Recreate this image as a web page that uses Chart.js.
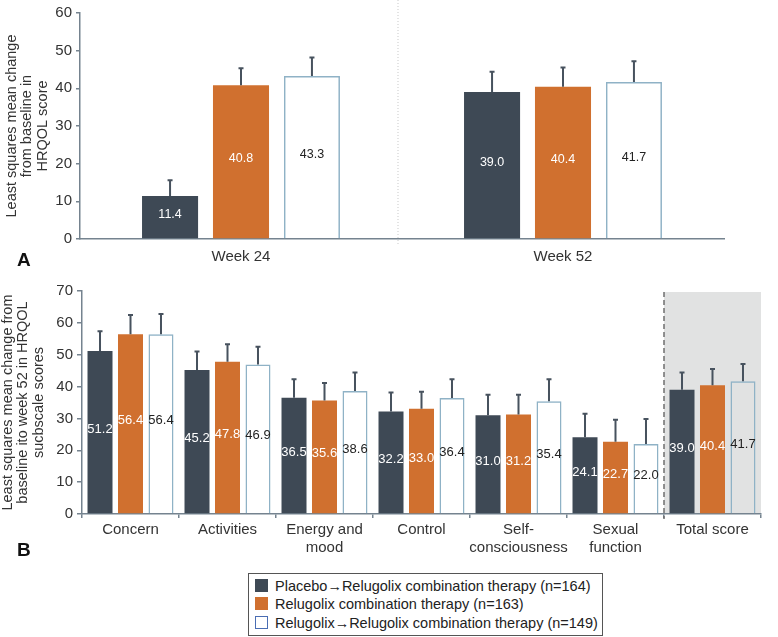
<!DOCTYPE html>
<html>
<head>
<meta charset="utf-8">
<script src="https://cdn.jsdelivr.net/npm/chart.js@4/dist/chart.umd.min.js"></script>
<style>
  html, body { margin: 0; padding: 0; background: #ffffff; }
  body { width: 778px; height: 637px; position: relative; overflow: hidden;
         font-family: "Liberation Sans", Arial, sans-serif; color: #222; }
  #wrapA { position: absolute; left: 0; top: 0; width: 778px; height: 268px; }
  #wrapB { position: absolute; left: 0; top: 270px; width: 778px; height: 290px; }
  .panel { position: absolute; font-weight: bold; font-size: 19px; color: #111; }
  #legend { position: absolute; left: 248px; top: 573px; width: 353px; height: 61px;
            border: 1px solid #555; box-sizing: content-box; }
  .li { position: absolute; left: 6px; height: 18px; font-size: 14.5px; line-height: 18px; white-space: nowrap; color: #222; }
  .sw { display: inline-block; width: 13px; height: 13px; vertical-align: -1px; margin-right: 7px; box-sizing: border-box; }
</style>
</head>
<body>
<div id="wrapA"><canvas id="chartA" width="778" height="268"></canvas></div>
<div id="wrapB"><canvas id="chartB" width="778" height="290"></canvas></div>
<div class="panel" style="left:17px; top:249px;">A</div>
<div class="panel" style="left:17px; top:539px;">B</div>
<div id="legend"></div>
<script>
// ---------- DATA ----------
const seriesNames = [
  'Placebo\u2192Relugolix combination therapy (n=164)',
  'Relugolix combination therapy (n=163)',
  'Relugolix\u2192Relugolix combination therapy (n=149)'
];
// Panel A
const weekLabels = ['Week 24', 'Week 52'];
const weekPlacebo = [11.4, 39.0];
const weekRelugolix = [40.8, 40.4];
const weekRelRel = [43.3, 41.7];
const weekPlaceboUpper = [15.6, 44.4];
const weekRelugolixUpper = [45.3, 45.5];
const weekRelRelUpper = [48.2, 47.2];
const yTitleA = ['Least squares mean change', 'from baseline in', 'HRQOL score'];
const yMaxA = 60;
// Panel B
const domainLabels = [['Concern'], ['Activities'], ['Energy and', 'mood'], ['Control'],
                      ['Self-', 'consciousness'], ['Sexual', 'function'], ['Total score']];
const domainPlacebo = [51.2, 45.2, 36.5, 32.2, 31.0, 24.1, 39.0];
const domainRelugolix = [56.4, 47.8, 35.6, 33.0, 31.2, 22.7, 40.4];
const domainRelRel = [56.4, 46.9, 38.6, 36.4, 35.4, 22.0, 41.7];
const domainPlaceboUpper = [57.4, 51.0, 42.3, 38.1, 37.4, 31.5, 44.4];
const domainRelugolixUpper = [62.5, 53.3, 41.1, 38.4, 37.4, 29.6, 45.5];
const domainRelRelUpper = [62.8, 52.5, 44.4, 42.3, 42.3, 29.8, 47.1];
const yTitleB = ['Least squares mean change from', 'baseline ito week 52 in HRQOL', 'sucbscale scores'];
const yMaxB = 70;
const highlightIndex = 6; // "Total score" shaded

// ---------- STYLE ----------
const FONT = '"Liberation Sans", Arial, sans-serif';
const cDark = '#3e4955';
const cOrange = '#d0702f';
const cWhiteBorder = '#8fb2c6';
const cAxis = '#75838f';
const cErr = '#47525e';
const fills = [cDark, cOrange, 'rgba(255,255,255,0)'];
const borders = [cDark, cOrange, cWhiteBorder];
const labelColors = ['#ffffff', '#ffffff', '#222222'];

function makeDatasets(vals, uppers) {
  return vals.map((v, i) => ({
    label: seriesNames[i],
    data: v,
    upper: uppers[i],
    backgroundColor: fills[i],
    borderColor: borders[i],
    borderWidth: i === 2 ? 1.5 : 0,
    labelColor: labelColors[i]
  }));
}

const errorAndLabels = {
  id: 'errorAndLabels',
  afterDatasetsDraw(chart, args, opts) {
    const ctx = chart.ctx;
    const y = chart.scales.y;
    chart.data.datasets.forEach((ds, di) => {
      const meta = chart.getDatasetMeta(di);
      meta.data.forEach((bar, i) => {
        const top = bar.y;
        const up = y.getPixelForValue(ds.upper[i]);
        ctx.save();
        ctx.strokeStyle = cErr;
        ctx.lineWidth = 2;
        ctx.beginPath();
        ctx.moveTo(bar.x, top);
        ctx.lineTo(bar.x, up);
        ctx.moveTo(bar.x - 2.5, up);
        ctx.lineTo(bar.x + 2.5, up);
        ctx.stroke();
        ctx.fillStyle = ds.labelColor;
        ctx.font = opts.fontSize + 'px ' + FONT;
        ctx.textAlign = 'center';
        ctx.textBaseline = 'middle';
        ctx.fillText(ds.data[i].toFixed(1), bar.x, (bar.y + bar.base) / 2 - 3);
        ctx.restore();
      });
    });
  }
};

const separatorA = {
  id: 'separatorA',
  beforeDatasetsDraw(chart) {
    const x = chart.scales.x;
    const ctx = chart.ctx;
    const bx = (x.getPixelForValue(0) + x.getPixelForValue(1)) / 2 - 4;
    ctx.save();
    ctx.strokeStyle = '#c9c9c9';
    ctx.lineWidth = 1;
    ctx.setLineDash([1, 2]);
    ctx.beginPath();
    ctx.moveTo(bx, 0);
    ctx.lineTo(bx, chart.chartArea.bottom + 6);
    ctx.stroke();
    ctx.restore();
  }
};

const shadeB = {
  id: 'shadeB',
  beforeDraw(chart) {
    const x = chart.scales.x;
    const ca = chart.chartArea;
    const ctx = chart.ctx;
    const bx = (x.getPixelForValue(highlightIndex - 1) + x.getPixelForValue(highlightIndex)) / 2;
    ctx.save();
    ctx.fillStyle = '#e1e2e2';
    ctx.fillRect(bx, ca.top + 1, ca.right - bx, ca.bottom - ca.top - 1);
    ctx.restore();
  },
  beforeDatasetsDraw(chart) {
    const x = chart.scales.x;
    const ca = chart.chartArea;
    const ctx = chart.ctx;
    const bx = (x.getPixelForValue(highlightIndex - 1) + x.getPixelForValue(highlightIndex)) / 2;
    ctx.save();
    ctx.strokeStyle = '#6f6f6f';
    ctx.lineWidth = 1.5;
    ctx.setLineDash([5, 3]);
    ctx.beginPath();
    ctx.moveTo(bx, ca.top + 1);
    ctx.lineTo(bx, ca.bottom + 5);
    ctx.stroke();
    ctx.restore();
  }
};

function yScale(max, title, titlePad, width, tickLen, tickPad) {
  return {
    min: 0, max: max,
    ticks: { stepSize: 10, color: '#333', font: { family: FONT, size: 15 }, padding: tickPad },
    grid: { display: true, drawOnChartArea: false, drawTicks: true, tickLength: tickLen, color: cAxis, lineWidth: 1.5 },
    border: { display: true, color: cAxis, width: 1.5 },
    title: { display: true, text: title, color: '#333', font: { family: FONT, size: 14.5, lineHeight: 1.07 }, padding: { top: titlePad, bottom: 0 } },
    afterFit(s) { s.width = width; }
  };
}

Chart.defaults.font.family = FONT;

new Chart(document.getElementById('chartA'), {
  type: 'bar',
  data: { labels: weekLabels, datasets: makeDatasets([weekPlacebo, weekRelugolix, weekRelRel], [weekPlaceboUpper, weekRelugolixUpper, weekRelRelUpper]) },
  options: {
    responsive: false, animation: false,
    layout: { padding: { left: 0, right: 54, top: 12, bottom: 0 } },
    datasets: { bar: { categoryPercentage: 0.661, barPercentage: 0.79 } },
    plugins: { legend: { display: false }, tooltip: { enabled: false }, errorAndLabels: { fontSize: 12.5 } },
    scales: {
      x: {
        ticks: { color: '#333', font: { family: FONT, size: 15 }, padding: 9, maxRotation: 0, minRotation: 0, autoSkip: false },
        grid: { display: false, drawTicks: false },
        border: { display: true, color: cAxis, width: 1.5 },
        afterFit(s) { s.height = 29; }
      },
      y: yScale(yMaxA, yTitleA, 4, 80, 4, 4)
    }
  },
  plugins: [separatorA, errorAndLabels]
});

new Chart(document.getElementById('chartB'), {
  type: 'bar',
  data: { labels: domainLabels, datasets: makeDatasets([domainPlacebo, domainRelugolix, domainRelRel], [domainPlaceboUpper, domainRelugolixUpper, domainRelRelUpper]) },
  options: {
    responsive: false, animation: false,
    layout: { padding: { left: 0, right: 17, top: 21, bottom: 0 } },
    datasets: { bar: { categoryPercentage: 0.943, barPercentage: 0.82 } },
    plugins: { legend: { display: false }, tooltip: { enabled: false }, errorAndLabels: { fontSize: 13 } },
    scales: {
      x: {
        ticks: { color: '#333', font: { family: FONT, size: 15, lineHeight: 1.2 }, padding: 3, maxRotation: 0, minRotation: 0, autoSkip: false },
        grid: { display: true, offset: true, drawOnChartArea: false, drawTicks: true, tickLength: 4, color: cAxis, lineWidth: 1.5 },
        border: { display: true, color: cAxis, width: 1.5 },
        afterFit(s) { s.height = 46; }
      },
      y: yScale(yMaxB, yTitleB, 0, 82, 5, 4)
    }
  },
  plugins: [shadeB, errorAndLabels]
});

// ---------- LEGEND ----------
const legend = document.getElementById('legend');
const rowTops = [3, 21, 40];
seriesNames.forEach((name, i) => {
  const row = document.createElement('div');
  row.className = 'li';
  row.style.top = rowTops[i] + 'px';
  const sw = document.createElement('span');
  sw.className = 'sw';
  if (i === 2) { sw.style.border = '1.5px solid #4a6db3'; sw.style.background = '#fff'; }
  else { sw.style.background = fills[i]; }
  row.appendChild(sw);
  row.appendChild(document.createTextNode(name));
  legend.appendChild(row);
});
</script>
</body>
</html>
